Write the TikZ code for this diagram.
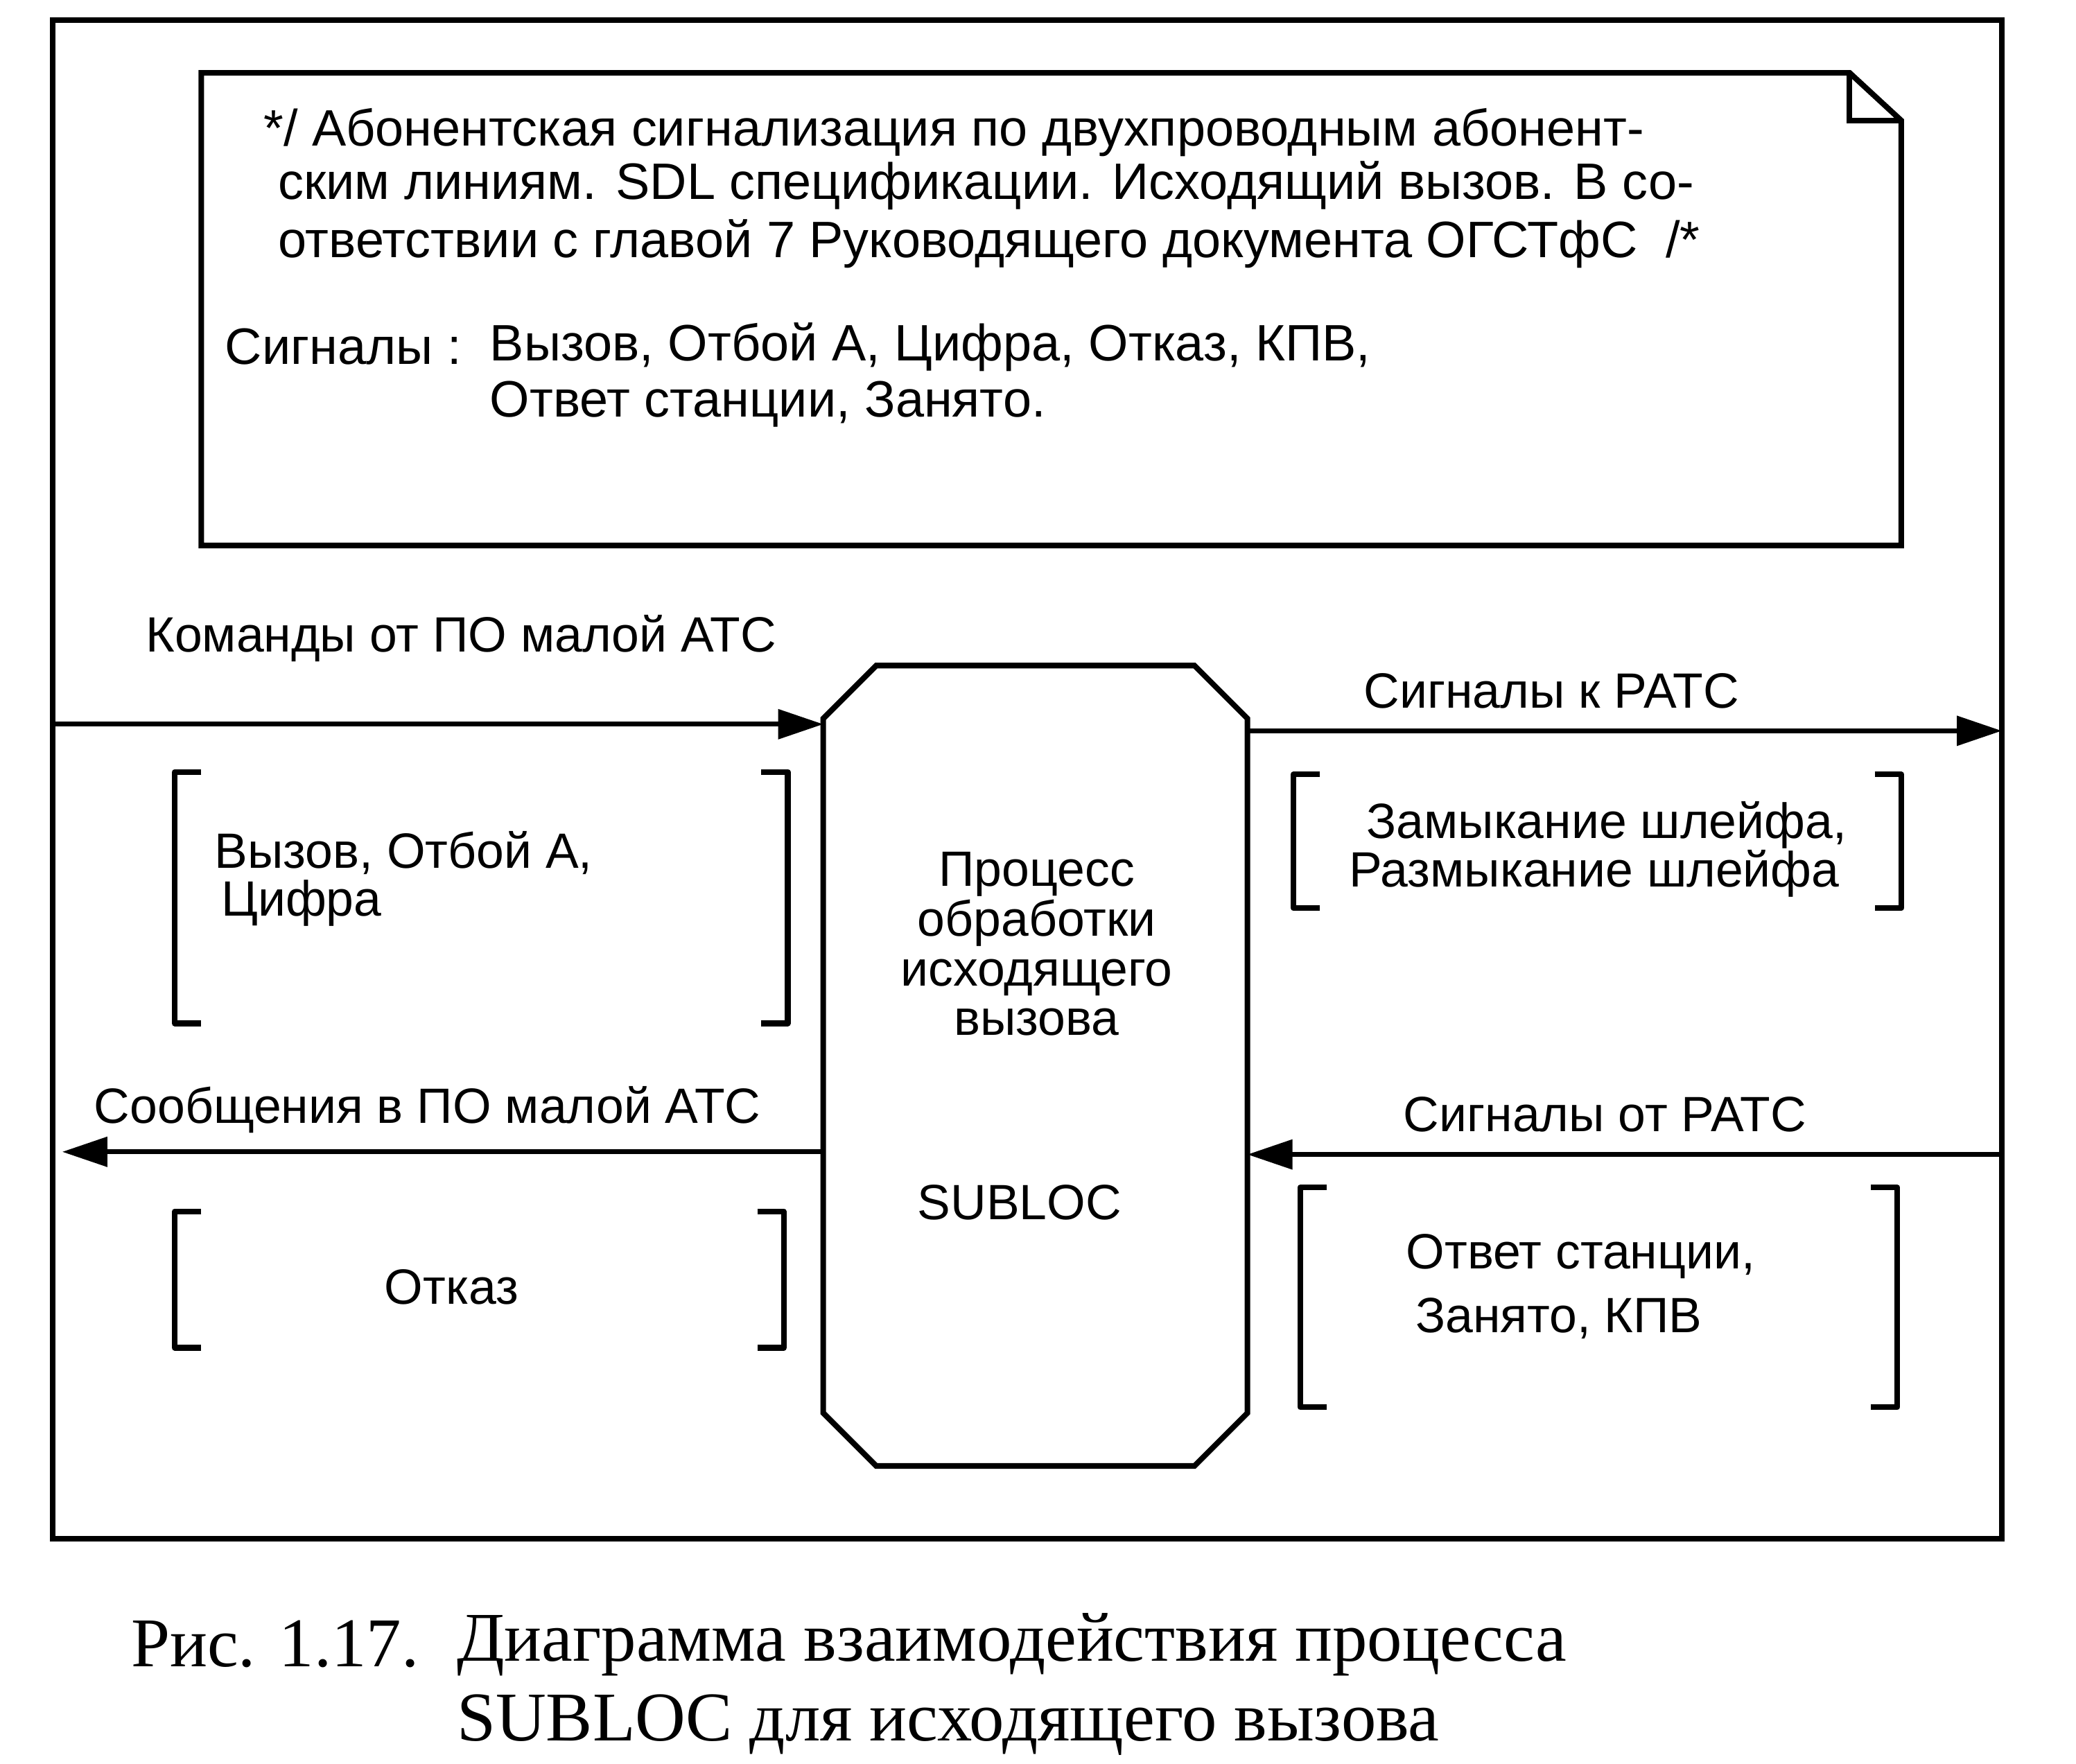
\documentclass[tikz,border=0pt]{standalone}
\usepackage{fontspec}
\setmainfont{Liberation Sans}
\newfontfamily\capfont{Liberation Serif}
\usetikzlibrary{arrows.meta,positioning,calc}

\tikzset{
  sig/.style={-{Triangle[length=0.34cm,width=0.22cm]},line width=1pt},
  lbl/.style={anchor=west,inner sep=0pt,font=\fontsize{10.65}{10.7}\selectfont},
  cmt/.style={lbl,font=\fontsize{11}{12}\selectfont},
  brk/.style={very thick,line join=round},
  captxt/.style={anchor=west,inner sep=0pt,font=\capfont\fontsize{15}{18}\selectfont}
}
% pair of square brackets round a signal list
\newcommand{\brpair}[4]{%
  \draw[brk] (#1+20,#2)--(#1,#2)--(#1,#4)--(#1+20,#4);
  \draw[brk] (#3-20,#2)--(#3,#2)--(#3,#4)--(#3-20,#4);}

\begin{document}
\begin{tikzpicture}[x=0.01cm,y=-0.01cm,very thick]
\useasboundingbox (0,0) rectangle (1568,1332);
\draw (40,15) rectangle (1512,1162);
% comment symbol
\draw (152,55)--(1397,55)--(1436,91)--(1436,412)--(152,412)--cycle;
\draw (1397,55)--(1397,91)--(1436,91);
\node[cmt] (c1) at (197,100) {*/ Абонентская сигнализация по двухпроводным абонент-};
\node[cmt] (c2) at (208,140) {ским линиям. SDL спецификации. Исходящий вызов. В со-};
\node[cmt] (c3) at (208,184) {ответствии с главой 7 Руководящего документа ОГСТфС\ \ /*};
\node[cmt] (sg) at (168,262) {Сигналы :};
\node[cmt] (sg1) at (368,262) {Вызов, Отбой А, Цифра, Отказ, КПВ,};
\node[cmt] (sg2) at (368,305) {Ответ станции, Занято.};
% process
\node[minimum width=3.16cm,minimum height=6cm,inner sep=0pt] (proc) at (782,805) {};
\draw ([xshift=0.4cm]proc.north west)--([xshift=-0.4cm]proc.north east)
  --([yshift=-0.4cm]proc.north east)--([yshift=0.4cm]proc.south east)
  --([xshift=-0.4cm]proc.south east)--([xshift=0.4cm]proc.south west)
  --([yshift=0.4cm]proc.south west)--([yshift=-0.4cm]proc.north west)--cycle;
\node[lbl,anchor=center,align=center] (ptxt) at (783,713) {Процесс\\обработки\\исходящего\\вызова};
\node[lbl,anchor=center] (pname) at (770,908) {SUBLOC};
% channels
\coordinate (inL) at (40,547);
\coordinate (outR) at (1512,552);
\coordinate (outL) at (47,870);
\coordinate (inR) at (1512,872);
\draw[sig] (inL)--(inL -| proc.west);
\draw[sig] (outR -| proc.east)--(outR);
\draw[sig] (outL -| proc.west)--(outL);
\draw[sig] (inR)--(inR -| proc.east);
\node[lbl] (cmd) at (108,482) {Команды от ПО малой АТС};
\node[lbl] (toR) at (1028,522) {Сигналы к РАТС};
\node[lbl] (msg) at (69,838) {Сообщения в ПО малой АТС};
\node[lbl] (frR) at (1058,842) {Сигналы от РАТС};
% signal lists
\brpair{132}{583}{595}{773}
\brpair{132}{915}{592}{1018}
\brpair{977}{585}{1436}{686}
\brpair{982}{897}{1433}{1063}
\node[lbl] (l1a) at (160,644) {Вызов, Отбой А,};
\node[lbl] (l1b) at (165,682) {Цифра};
\node[lbl,anchor=center] (l2) at (341,972) {Отказ};
\node[lbl] (r1a) at (1030,623) {Замыкание шлейфа,};
\node[lbl] (r1b) at (1017,660) {Размыкание шлейфа};
\node[lbl] (r2a) at (1060,949) {Ответ станции,};
\node[lbl] (r2b) at (1067,996) {Занято, КПВ};
% caption
\node[captxt] (fig) at (97,1242) {Рис. 1.17.};
\node[captxt] (cap1) at (343,1242) {Диаграмма взаимодействия процесса};
\node[captxt] (cap2) at (343,1303) {SUBLOC для исходящего вызова};
\end{tikzpicture}
\end{document}
